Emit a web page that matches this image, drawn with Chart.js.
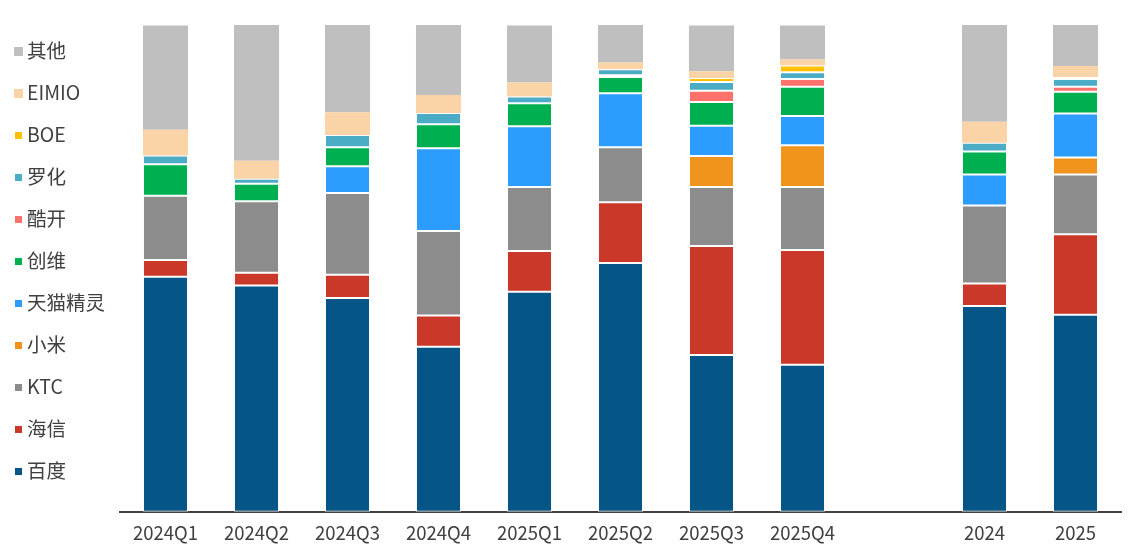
<!DOCTYPE html>
<html>
<head>
<meta charset="utf-8">
<script src="https://cdn.jsdelivr.net/npm/chart.js@4"></script>
<style>
  body { margin: 0; background: #fff; }
  #wrap { position: relative; width: 1137px; height: 555px; }
  #leyenda { position: absolute; left: 14px; top: 29px; font-family: "Noto Sans CJK SC", "Noto Sans", sans-serif; font-size: 19.5px; color: #404040; }
  .item { height: 42px; line-height: 42px; white-space: nowrap; }
  .item span.caja { display: inline-block; width: 9px; height: 9px; box-sizing: border-box; margin-right: 4px; vertical-align: middle; position: relative; top: -1px; }
</style>
</head>
<body>
<div id="wrap">
  <canvas id="grafico" width="1137" height="555"></canvas>
  <div id="leyenda"></div>
</div>
<script>
// Categorías del eje X (la posición vacía separa trimestres de años)
const categorias = ["2024Q1", "2024Q2", "2024Q3", "2024Q4", "2025Q1", "2025Q2", "2025Q3", "2025Q4", "", "2024", "2025"];

// Cuota de mercado (%) por marca
const baidu    = [48.3, 46.5, 43.9, 33.9, 45.2, 51.1, 32.2, 30.2, null, 42.3, 40.5];
const hisense  = [3.4, 2.6, 4.8, 6.4, 8.4, 12.5, 22.4, 23.6, null, 4.6, 16.5];
const ktc      = [13.2, 14.7, 16.8, 17.4, 13.1, 11.3, 12.1, 12.9, null, 16.0, 12.3];
const xiaomi   = [null, null, null, null, null, null, 6.4, 8.6, null, null, 3.5];
const tmall    = [null, null, 5.5, 17.0, 12.5, 11.1, 6.2, 6.0, null, 6.4, 9.0];
const skyworth = [6.5, 3.6, 3.9, 4.9, 4.7, 3.3, 4.9, 6.0, null, 4.7, 4.5];
const coocaa   = [null, null, null, null, null, 0.4, 2.3, 1.6, null, null, 1.0];
const luohua   = [1.8, 1.0, 2.5, 2.3, 1.4, 1.2, 1.8, 1.4, null, 1.8, 1.6];
const boe      = [null, null, null, null, null, null, 0.8, 1.4, null, null, 0.4];
const eimio    = [5.3, 3.7, 4.7, 3.7, 2.9, 1.4, 1.4, 1.2, null, 4.3, 2.3];
const otros    = [21.4, 27.9, 17.9, 14.4, 11.7, 7.8, 9.4, 7.0, null, 20.0, 8.6];

// Series en orden de apilado (de abajo hacia arriba)
const series = [
  { label: "百度", data: baidu, color: "#055586", borde: 1 },
  { label: "海信", data: hisense, color: "#C93828", borde: 1 },
  { label: "KTC", data: ktc, color: "#8C8C8C", borde: 1 },
  { label: "小米", data: xiaomi, color: "#F0941E", borde: 1 },
  { label: "天猫精灵", data: tmall, color: "#2C9CFF", borde: 1 },
  { label: "创维", data: skyworth, color: "#00AF50", borde: 1 },
  { label: "酷开", data: coocaa, color: "#FF716B", borde: 1 },
  { label: "罗化", data: luohua, color: "#4BACC6", borde: 1 },
  { label: "BOE", data: boe, color: "#FFC000", borde: 1 },
  { label: "EIMIO", data: eimio, color: "#FAD4A6", borde: 0 },
  { label: "其他", data: otros, color: "#BFBFBF", borde: 0 }
];

const ctx = document.getElementById("grafico").getContext("2d");
const chart = new Chart(ctx, {
  type: "bar",
  data: {
    labels: categorias,
    datasets: series.map(s => ({
      label: s.label,
      data: s.data,
      backgroundColor: s.color,
      borderColor: "#FFFFFF",
      borderWidth: s.borde,
      borderSkipped: false,
      categoryPercentage: 1,
      barPercentage: 0.495
    }))
  },
  options: {
    responsive: false,
    animation: false,
    layout: { padding: { left: 120, right: 16, top: 25, bottom: 1 } },
    plugins: {
      legend: { display: false },
      tooltip: { enabled: false }
    },
    scales: {
      x: {
        stacked: true,
        grid: { display: false, drawTicks: false },
        border: { display: true, color: "#404040", width: 2 },
        ticks: {
          color: "#404040",
          padding: 10,
          font: { family: "'Noto Sans CJK SC', 'Noto Sans', sans-serif", size: 18.5 }
        }
      },
      y: {
        stacked: true,
        display: false,
        min: 0,
        max: 100
      }
    }
  }
});

// Leyenda a la izquierda, en orden inverso (igual que el original)
const leyenda = document.getElementById("leyenda");
series.slice().reverse().forEach(s => {
  const fila = document.createElement("div");
  fila.className = "item";
  const caja = document.createElement("span");
  caja.className = "caja";
  caja.style.background = s.color;
  if (s.borde) caja.style.border = "1px solid #fff";
  fila.appendChild(caja);
  fila.appendChild(document.createTextNode(s.label));
  leyenda.appendChild(fila);
});
</script>
</body>
</html>
